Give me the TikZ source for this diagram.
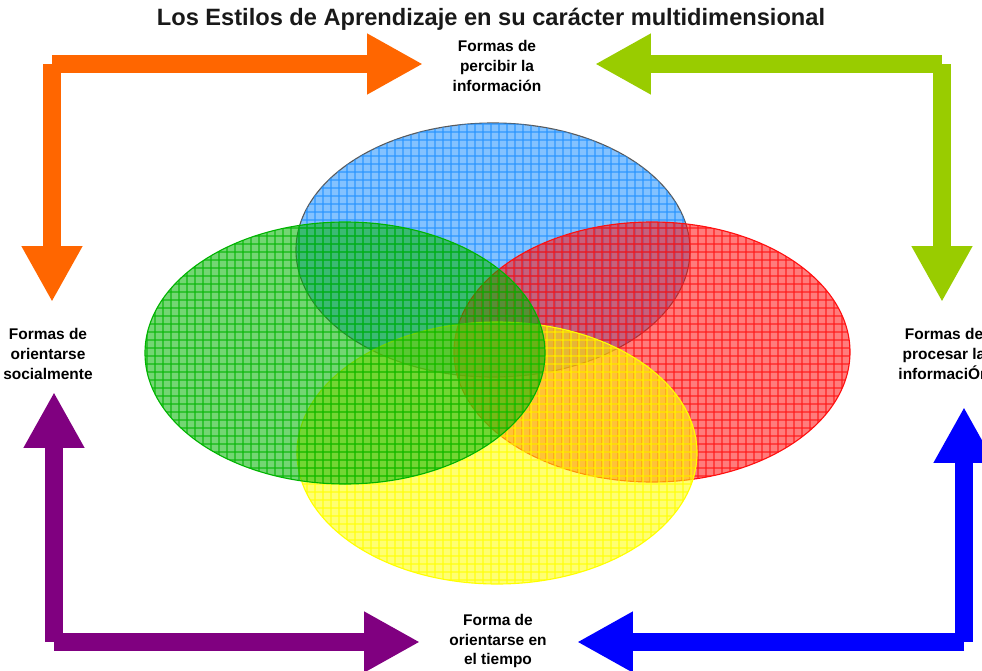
\documentclass[tikz,border=0pt]{standalone}
\usepackage{fontspec}
\setmainfont{Liberation Sans}
\usetikzlibrary{arrows.meta, patterns.meta, positioning, calc}
\definecolor{arrorange}{HTML}{FF6600}
\definecolor{arrlime}{HTML}{99CC00}
\definecolor{arrpurple}{HTML}{800080}
\definecolor{arrblue}{HTML}{0000FF}
\definecolor{setblue}{HTML}{1E90FF}
\definecolor{setgreen}{HTML}{00B400}
\definecolor{setred}{HTML}{FF1010}
\definecolor{setyellow}{HTML}{FFFF00}
\tikzdeclarepattern{
   name=cellgrid,
   type=uncolored,
   bottom left={(0pt,0pt)},
   top right={(5.67pt,5.67pt)},
   tile size={(5.67pt,5.67pt)},
   code={
      \draw[line width=1pt] (2.835pt,0pt) -- (2.835pt,5.67pt)
         (0pt,2.835pt) -- (5.67pt,2.835pt);
   }
}
\tikzset{
   mytitle/.style={font=\bfseries\fontsize{16.8}{20}\selectfont, text=black!90, inner sep=0pt},
   mylabel/.style={font=\bfseries\fontsize{11}{14.2}\selectfont, align=center, inner sep=0pt},
   myarrow/.style={draw=#1, line width=12.76pt, -{Triangle[length=39.7pt,width=40.4pt]}},
   myset/.style={draw=#1, line width=.8pt, fill=#1, fill opacity=.55,
      postaction={pattern=cellgrid, pattern color=#1, fill opacity=.85}}
}

\begin{document}
\begin{tikzpicture}[x=0.025cm, y=-0.025cm]
   \useasboundingbox (0,0) rectangle (982,671);
   % the four sets
   \path[myset=setblue, draw=gray!70!black] (493,250) ellipse [x radius=197, y radius=127];
   \path[myset=setred]    (652,352) ellipse [x radius=198, y radius=130];
   \path[myset=setyellow] (497,453) ellipse [x radius=200, y radius=131];
   \path[myset=setgreen]  (345,353) ellipse [x radius=200, y radius=131];
   % texts
   \node[mytitle] (title) at (491,19) {Los Estilos de Aprendizaje en su carácter multidimensional};
   \node[mylabel] (percibir) at (497,66)  {Formas de\\percibir la\\información};
   \node[mylabel] (social)   at (48,354)  {Formas de\\orientarse\\socialmente};
   \node[mylabel] (procesar) at (944,354) {Formas de\\procesar la\\informaciÓn};
   \node[mylabel] (tiempo)   at (498,641) {Forma de\\orientarse en\\el tiempo};
   % corners and tips of the arrows
   \coordinate (cTL) at (52,64);
   \coordinate (cTR) at (942,64);
   \coordinate (cBL) at (54,642);
   \coordinate (cBR) at (964,642);
   \coordinate (tipTL) at (423,64);
   \coordinate (tipLT) at (52,302);
   \coordinate (tipTR) at (595,64);
   \coordinate (tipRT) at (942,302);
   \coordinate (tipBL) at (420,642);
   \coordinate (tipLB) at (54,392);
   \coordinate (tipBR) at (577,642);
   \coordinate (tipRB) at (964,407);
   \draw[myarrow=arrorange] (cTL) -- (tipTL);
   \draw[myarrow=arrorange] (cTL) -- (tipLT);
   \draw[myarrow=arrlime]   (cTR) -- (tipTR);
   \draw[myarrow=arrlime]   (cTR) -- (tipRT);
   \draw[myarrow=arrpurple] (cBL) -- (tipBL);
   \draw[myarrow=arrpurple] (cBL) -- (tipLB);
   \draw[myarrow=arrblue]   (cBR) -- (tipBR);
   \draw[myarrow=arrblue]   (cBR) -- (tipRB);
\end{tikzpicture}
\end{document}
